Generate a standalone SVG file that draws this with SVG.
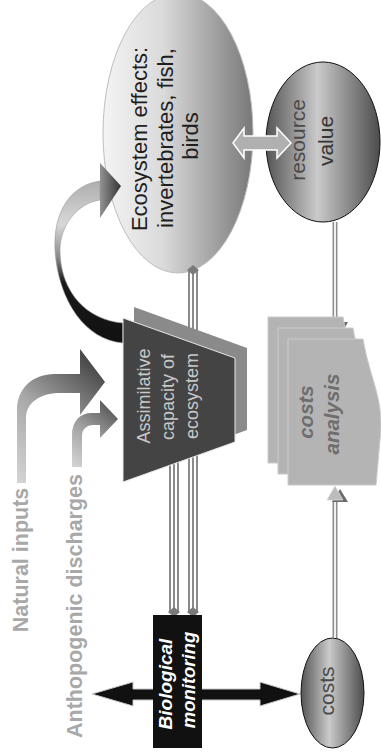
<svg xmlns="http://www.w3.org/2000/svg" width="381" height="756" viewBox="0 0 381 756">
<style>
text{font-family:"Liberation Sans",Arial,sans-serif;text-anchor:middle}
.eco{font-size:22px;fill:#1e1e1e}
.cap{font-size:18px;fill:#c8c8c8}
.res{font-size:21px;fill:#4a4a4a}
.bio{font-size:19px;fill:#ffffff;font-weight:bold;font-style:italic}
.ca{font-size:20.5px;fill:#6e6e6e;font-weight:bold;font-style:italic}
.lbl{font-size:21.5px;fill:#a8a8a8;font-weight:bold}
.c1{stroke:#8a8a8a;stroke-width:10;fill:none}
.c2{stroke:#ffffff;stroke-width:6;fill:none}
.c3{stroke:#8a8a8a;stroke-width:2;fill:none}
.d1{stroke:#8e8e8e;stroke-width:5;fill:none}
.d2{stroke:#f0f0f0;stroke-width:2;fill:none}
.dia{fill:#7a7a7a}
.doc{fill:#b4b4b4;stroke:#cacaca;stroke-width:1}
</style>
<defs>
<linearGradient id="ecoGrad" x1="0" y1="0" x2="1" y2="0">
<stop offset="0" stop-color="#f4f4f4"/>
<stop offset="0.4" stop-color="#dadada"/>
<stop offset="1" stop-color="#787878"/>
</linearGradient>
<linearGradient id="cylGrad" x1="0" y1="0" x2="1" y2="0">
<stop offset="0" stop-color="#555555"/>
<stop offset="0.45" stop-color="#cacaca"/>
<stop offset="1" stop-color="#4c4c4c"/>
</linearGradient>
<linearGradient id="natGrad" gradientUnits="userSpaceOnUse" x1="20" y1="480" x2="105" y2="375">
<stop offset="0" stop-color="#d2d2d2"/>
<stop offset="0.5" stop-color="#a8a8a8"/>
<stop offset="1" stop-color="#4a4a4a"/>
</linearGradient>
<linearGradient id="antGrad" gradientUnits="userSpaceOnUse" x1="75" y1="465" x2="118" y2="410">
<stop offset="0" stop-color="#d2d2d2"/>
<stop offset="0.5" stop-color="#a0a0a0"/>
<stop offset="1" stop-color="#555555"/>
</linearGradient>
<linearGradient id="fbGrad" gradientUnits="userSpaceOnUse" x1="0" y1="175" x2="0" y2="340">
<stop offset="0" stop-color="#a8a8a8"/>
<stop offset="0.3" stop-color="#d8d8d8"/>
<stop offset="0.5" stop-color="#8a8a8a"/>
<stop offset="0.65" stop-color="#1a1a1a"/>
<stop offset="1" stop-color="#111111"/>
</linearGradient>
<linearGradient id="fbHead" gradientUnits="userSpaceOnUse" x1="95" y1="0" x2="121" y2="0">
<stop offset="0" stop-color="#aaaaaa"/>
<stop offset="1" stop-color="#333333"/>
</linearGradient>
<path id="doc" d="M0,0 L75,0 C82,41 97,61 92,101 C90,123 89,135 88,146 L0,146 Z"/>
<path id="dmd" d="M0,-5 L6,0 L0,5 L-6,0 Z"/>
</defs>

<g id="ecosystem-effects">
<ellipse cx="178" cy="133" rx="75" ry="140" fill="url(#ecoGrad)" stroke="#bdbdbd" stroke-width="1"/>
<text class="eco" transform="translate(147,139) rotate(-90)">Ecosystem effects:</text>
<text class="eco" transform="translate(173,138) rotate(-90)">invertebrates, fish,</text>
<text class="eco" transform="translate(198,136) rotate(-90)">birds</text>
</g>

<g id="resource-value">
<ellipse cx="323" cy="142" rx="57" ry="80" fill="url(#cylGrad)" stroke="#111111" stroke-width="1"/>
<text class="res" transform="translate(305,140) rotate(-90)">resource</text>
<text class="res" transform="translate(333,141) rotate(-90)" style="fill:#343434">value</text>
</g>

<g id="costs">
<ellipse cx="332.5" cy="693" rx="31.5" ry="55" fill="url(#cylGrad)" stroke="#111111" stroke-width="1"/>
<text class="res" transform="translate(334,691) rotate(-90)">costs</text>
</g>

<g id="connectors">
<line class="c1" x1="193" y1="270" x2="193" y2="612"/>
<line class="c2" x1="193" y1="270" x2="193" y2="612"/>
<line class="c3" x1="193" y1="270" x2="193" y2="612"/>
<use href="#dmd" class="dia" x="193" y="270"/>
<line class="c1" x1="174" y1="459" x2="174" y2="612"/>
<line class="c2" x1="174" y1="459" x2="174" y2="612"/>
<line class="c3" x1="174" y1="459" x2="174" y2="612"/>
<use href="#dmd" class="dia" x="193" y="612"/>
<use href="#dmd" class="dia" x="174" y="612"/>
<line class="d1" x1="335" y1="222" x2="335" y2="323"/>
<line class="d2" x1="335" y1="222" x2="335" y2="323"/>
<path d="M332,322 L348,322 L340,336 Z" fill="#6a6a6a"/>
<path d="M327,322 L343,322 L335,339 Z" fill="#bcbcbc" stroke="#d8d8d8" stroke-width="0.8"/>
<line class="d1" x1="335" y1="500" x2="335" y2="638"/>
<line class="d2" x1="335" y1="500" x2="335" y2="638"/>
<path d="M332,502 L348,502 L340,489 Z" fill="#6a6a6a"/>
<path d="M327,500 L343,500 L335,486 Z" fill="#bcbcbc" stroke="#d8d8d8" stroke-width="0.8"/>
<path d="M233,143 L244,128 L244,136 L277,136 L277,128 L291,143 L277,158 L277,150 L244,150 L244,158 Z" fill="#b0b0b0" stroke="#ffffff" stroke-width="1.5"/>
<path d="M92,694 L133,682 L133,689 L260,689 L260,682 L300,694 L260,706 L260,700 L133,700 L133,706 Z" fill="#111111" stroke="#c8c8c8" stroke-width="1"/>
<path d="M123,343 C85,340 58,300 55,250 C53,210 72,185 100,181 L100,200 C78,203 60,225 60,250 C60,290 85,320 123,323 Z" fill="url(#fbGrad)" stroke="#9a9a9a" stroke-width="0.6"/>
<path d="M100,163 L121,186 L100,218 Z" fill="url(#fbHead)"/>
<path d="M17,483 L17,410 C17,388 33,374 55,374 L80,374 L80,349 L105,382 L80,415 L80,393 L60,393 C40,393 26,403 26,418 L26,483 Z" fill="url(#natGrad)"/>
<path d="M72,467 L72,435 C72,421 80,413 92,413 L100,413 L100,400 L118,419 L100,438 L100,425 L93,425 C87,425 82,429 82,436 L82,467 Z" fill="url(#antGrad)"/>
</g>

<g id="assimilative-capacity">
<path d="M134,307 L247,348 L247,430 L134,471 Z" fill="#8a8a8a"/>
<path d="M123,318 L235,358 L235,442 L123,482 Z" fill="#444444" stroke="#e6e6e6" stroke-width="1"/>
<text class="cap" transform="translate(150,396) rotate(-90)">Assimilative</text>
<text class="cap" transform="translate(174,397) rotate(-90)">capacity of</text>
<text class="cap" transform="translate(198,396) rotate(-90)">ecosystem</text>
</g>

<g id="costs-analysis">
<use href="#doc" class="doc" x="268" y="317"/>
<use href="#doc" class="doc" x="278" y="328"/>
<use href="#doc" class="doc" x="288" y="339"/>
<text class="ca" transform="translate(313,412) rotate(-90)">costs</text>
<text class="ca" transform="translate(339,414) rotate(-90)">analysis</text>
</g>

<g id="biological-monitoring">
<rect x="153" y="615" width="49" height="133" fill="#111111"/>
<text class="bio" transform="translate(172,684) rotate(-90)">Biological</text>
<text class="bio" transform="translate(195,680) rotate(-90)" style="font-size:18.5px">monitoring</text>
</g>

<g id="natural-inputs">
<text class="lbl" transform="translate(28,560) rotate(-90)">Natural inputs</text>
</g>

<g id="anthropogenic-discharges">
<text class="lbl" transform="translate(82,606) rotate(-90)">Anthopogenic discharges</text>
</g>
</svg>
